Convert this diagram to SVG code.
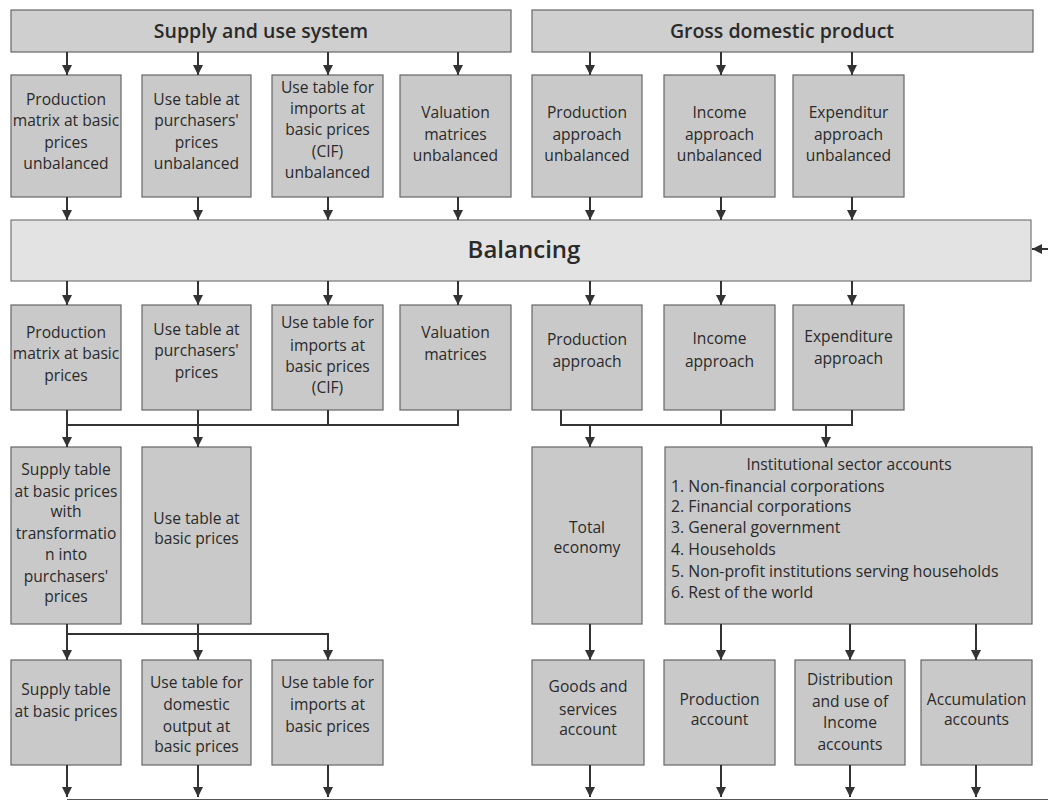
<svg xmlns="http://www.w3.org/2000/svg" width="1048" height="801" viewBox="0 0 1048 801">
<style>
.box{fill:#c9c9c9;stroke:#666;stroke-width:1.2}
.bar{fill:#cfcfcf;stroke:#666;stroke-width:1.2}
.bal{fill:#e3e3e3;stroke:#777;stroke-width:1.2}
text{font-family:"Open Sans","Liberation Sans",sans-serif;font-size:15.6px;fill:#2a2a2a;text-anchor:middle}
.t{font-size:19.5px;font-weight:600}
.big{font-size:24px;font-weight:600}
.l{text-anchor:start;font-size:15.8px}
.c line,.c path{stroke:#333;stroke-width:2;fill:none}
.c .a{marker-end:url(#ah)}
</style>
<defs>
<marker id="ah" viewBox="0 0 10 10" refX="10" refY="5" markerWidth="10" markerHeight="11" markerUnits="userSpaceOnUse" orient="auto">
<path d="M0,0 L10,5 L0,10 z" fill="#333"/>
</marker>
</defs>
<rect width="1048" height="801" fill="#fff"/>

<g id="supply-use-system"><rect class="bar" x="11" y="10" width="500" height="42"/><text class="t" x="261" y="38">Supply and use system</text></g>
<g id="gdp"><rect class="bar" x="532" y="10" width="501" height="42"/><text class="t" x="782" y="38">Gross domestic product</text></g>

<g id="r1-prod"><rect class="box" x="11" y="75" width="110" height="122"/><text x="66" y="105">Production</text><text x="66" y="126">matrix at basic</text><text x="66" y="148">prices</text><text x="66" y="169">unbalanced</text></g>
<g id="r1-use"><rect class="box" x="142" y="75" width="109" height="122"/><text x="196.5" y="105">Use table at</text><text x="196.5" y="126">purchasers'</text><text x="196.5" y="148">prices</text><text x="196.5" y="169">unbalanced</text></g>
<g id="r1-imp"><rect class="box" x="272" y="75" width="111" height="122"/><text x="327.5" y="93">Use table for</text><text x="327.5" y="114">imports at</text><text x="327.5" y="135">basic  prices</text><text x="327.5" y="157">(CIF)</text><text x="327.5" y="178">unbalanced</text></g>
<g id="r1-val"><rect class="box" x="400" y="75" width="111" height="122"/><text x="455.5" y="118">Valuation</text><text x="455.5" y="140">matrices</text><text x="455.5" y="161">unbalanced</text></g>
<g id="r1-pa"><rect class="box" x="532" y="75" width="110" height="122"/><text x="587" y="118">Production</text><text x="587" y="140">approach</text><text x="587" y="161">unbalanced</text></g>
<g id="r1-ia"><rect class="box" x="664" y="75" width="111" height="122"/><text x="719.5" y="118">Income</text><text x="719.5" y="140">approach</text><text x="719.5" y="161">unbalanced</text></g>
<g id="r1-ea"><rect class="box" x="793" y="75" width="111" height="122"/><text x="848.5" y="118">Expenditur</text><text x="848.5" y="140">approach</text><text x="848.5" y="161">unbalanced</text></g>

<g id="balancing"><rect class="bal" x="11" y="220" width="1020" height="61"/><text class="big" x="524" y="258">Balancing</text></g>

<g id="r2-prod"><rect class="box" x="11" y="305" width="110" height="105"/><text x="66" y="338">Production</text><text x="66" y="359">matrix at basic</text><text x="66" y="381">prices</text></g>
<g id="r2-use"><rect class="box" x="142" y="305" width="109" height="105"/><text x="196.5" y="335">Use table at</text><text x="196.5" y="356">purchasers'</text><text x="196.5" y="378">prices</text></g>
<g id="r2-imp"><rect class="box" x="272" y="305" width="111" height="105"/><text x="327.5" y="328">Use table for</text><text x="327.5" y="351">imports at</text><text x="327.5" y="372">basic prices</text><text x="327.5" y="393">(CIF)</text></g>
<g id="r2-val"><rect class="box" x="400" y="305" width="111" height="105"/><text x="455.5" y="338">Valuation</text><text x="455.5" y="360">matrices</text></g>
<g id="r2-pa"><rect class="box" x="532" y="305" width="110" height="105"/><text x="587" y="345">Production</text><text x="587" y="367">approach</text></g>
<g id="r2-ia"><rect class="box" x="664" y="305" width="111" height="105"/><text x="719.5" y="344">Income</text><text x="719.5" y="367">approach</text></g>
<g id="r2-ea"><rect class="box" x="793" y="305" width="111" height="105"/><text x="848.5" y="342">Expenditure</text><text x="848.5" y="364">approach</text></g>

<g id="r3-supply"><rect class="box" x="11" y="447" width="110" height="177"/><text x="66" y="475">Supply table</text><text x="66" y="497">at basic prices</text><text x="66" y="517">with</text><text x="66" y="539">transformatio</text><text x="66" y="560">n into</text><text x="66" y="582">purchasers'</text><text x="66" y="602">prices</text></g>
<g id="r3-use"><rect class="box" x="142" y="447" width="109" height="177"/><text x="196.5" y="524">Use table at</text><text x="196.5" y="544">basic prices</text></g>
<g id="r3-total"><rect class="box" x="532" y="447" width="110" height="177"/><text x="587" y="533">Total</text><text x="587" y="553">economy</text></g>
<g id="r3-inst"><rect class="box" x="665" y="447" width="367" height="177"/><text x="849" y="470">Institutional sector accounts</text><text class="l" x="671" y="492">1. Non-financial corporations</text><text class="l" x="671" y="512">2. Financial corporations</text><text class="l" x="671" y="533">3. General government</text><text class="l" x="671" y="555">4. Households</text><text class="l" x="671" y="577">5. Non-profit institutions serving households</text><text class="l" x="671" y="598">6. Rest of the world</text></g>

<g id="r4-supply"><rect class="box" x="11" y="660" width="110" height="105"/><text x="66" y="695">Supply table</text><text x="66" y="717">at basic prices</text></g>
<g id="r4-usedom"><rect class="box" x="142" y="660" width="109" height="105"/><text x="196.5" y="688">Use table for</text><text x="196.5" y="710">domestic</text><text x="196.5" y="732">output at</text><text x="196.5" y="752">basic prices</text></g>
<g id="r4-useimp"><rect class="box" x="272" y="660" width="111" height="105"/><text x="327.5" y="688">Use table for</text><text x="327.5" y="710">imports at</text><text x="327.5" y="732">basic prices</text></g>
<g id="r4-goods"><rect class="box" x="532" y="660" width="112" height="105"/><text x="588" y="692">Goods and</text><text x="588" y="715">services</text><text x="588" y="735">account</text></g>
<g id="r4-prodacc"><rect class="box" x="664" y="660" width="111" height="105"/><text x="719.5" y="705">Production</text><text x="719.5" y="725">account</text></g>
<g id="r4-dist"><rect class="box" x="795" y="660" width="110" height="105"/><text x="850" y="685">Distribution</text><text x="850" y="707">and use of</text><text x="850" y="728">Income</text><text x="850" y="750">accounts</text></g>
<g id="r4-accum"><rect class="box" x="921" y="660" width="111" height="105"/><text x="976.5" y="705">Accumulation</text><text x="976.5" y="725">accounts</text></g>

<g id="connectors" class="c">
<line class="a" x1="67" y1="52" x2="67" y2="75"/><line class="a" x1="198" y1="52" x2="198" y2="75"/><line class="a" x1="328" y1="52" x2="328" y2="75"/><line class="a" x1="458" y1="52" x2="458" y2="75"/>
<line class="a" x1="590" y1="52" x2="590" y2="75"/><line class="a" x1="721" y1="52" x2="721" y2="75"/><line class="a" x1="852" y1="52" x2="852" y2="75"/>
<line class="a" x1="67" y1="197" x2="67" y2="220"/><line class="a" x1="198" y1="197" x2="198" y2="220"/><line class="a" x1="328" y1="197" x2="328" y2="220"/><line class="a" x1="458" y1="197" x2="458" y2="220"/>
<line class="a" x1="590" y1="197" x2="590" y2="220"/><line class="a" x1="721" y1="197" x2="721" y2="220"/><line class="a" x1="852" y1="197" x2="852" y2="220"/>
<line class="a" x1="1048" y1="249" x2="1032" y2="249"/>
<line class="a" x1="67" y1="281" x2="67" y2="305"/><line class="a" x1="198" y1="281" x2="198" y2="305"/><line class="a" x1="328" y1="281" x2="328" y2="305"/><line class="a" x1="458" y1="281" x2="458" y2="305"/>
<line class="a" x1="590" y1="281" x2="590" y2="305"/><line class="a" x1="721" y1="281" x2="721" y2="305"/><line class="a" x1="852" y1="281" x2="852" y2="305"/>
<path d="M67,410 V425 M198,410 V425 M328,410 V425 M458,410 V425 M66,425 H459"/>
<line class="a" x1="67" y1="425" x2="67" y2="447"/><line class="a" x1="198" y1="425" x2="198" y2="447"/>
<path d="M561,410 V425 M721,410 V425 M852,410 V425 M560,425 H853"/>
<line class="a" x1="590" y1="425" x2="590" y2="447"/><line class="a" x1="826" y1="425" x2="826" y2="447"/>
<path d="M67,624 V634 M198,624 V634 M66,634 H329"/>
<line class="a" x1="67" y1="634" x2="67" y2="660"/><line class="a" x1="198" y1="634" x2="198" y2="660"/><line class="a" x1="328" y1="634" x2="328" y2="660"/>
<line class="a" x1="590" y1="624" x2="590" y2="660"/><line class="a" x1="721" y1="624" x2="721" y2="660"/><line class="a" x1="850" y1="624" x2="850" y2="660"/><line class="a" x1="976" y1="624" x2="976" y2="660"/>
<line class="a" x1="67" y1="765" x2="67" y2="797"/><line class="a" x1="198" y1="765" x2="198" y2="797"/><line class="a" x1="328" y1="765" x2="328" y2="797"/>
<line class="a" x1="590" y1="765" x2="590" y2="797"/><line class="a" x1="721" y1="765" x2="721" y2="797"/><line class="a" x1="850" y1="765" x2="850" y2="797"/><line class="a" x1="976" y1="765" x2="976" y2="797"/>
<line x1="67" y1="799.5" x2="1048" y2="799.5" style="stroke:#555;stroke-width:1.2"/>
</g>
</svg>
